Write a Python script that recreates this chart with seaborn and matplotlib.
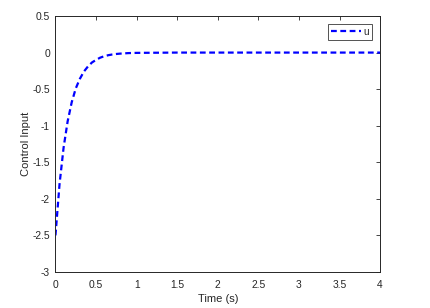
import matplotlib
matplotlib.use("Agg")
import matplotlib.pyplot as plt
import seaborn as sns
import pandas as pd

time_s = [0, 0.05, 0.1, 0.15, 0.2, 0.25, 0.3, 0.35, 0.4, 0.45, 0.5, 0.55, 0.6,
          0.65, 0.7, 0.75, 0.8, 0.9, 1.0, 1.5, 2.0, 2.5, 3.0, 3.5, 4.0]
control_u = [-2.5, -1.8, -1.3, -0.94, -0.68, -0.49, -0.36, -0.26, -0.19, -0.135,
             -0.10, -0.07, -0.05, -0.036, -0.026, -0.019, -0.014, -0.007, -0.004,
             0, 0, 0, 0, 0, 0]

df = pd.DataFrame({"Time (s)": time_s, "u": control_u})

sns.set_style("white")
plt.rcParams['font.family'] = ['Liberation Sans', 'DejaVu Sans']

fig = plt.figure(figsize=(4.3, 3.08), dpi=100)
ax = fig.add_axes([0.129, 0.117, 0.755, 0.831])

sns.lineplot(data=df, x="Time (s)", y="u", ax=ax, color="#0000ff",
             linewidth=1.6, label="u")
ax.lines[0].set_dashes((2.6, 1.6))

ax.set_xlim(0, 4)
ax.set_ylim(-3, 0.5)
ax.set_xticks([0, 0.5, 1, 1.5, 2, 2.5, 3, 3.5, 4])
ax.set_xticklabels(["0", "0.5", "1", "1.5", "2", "2.5", "3", "3.5", "4"])
ax.set_yticks([0.5, 0, -0.5, -1, -1.5, -2, -2.5, -3])
ax.set_yticklabels(["0.5", "0", "-0.5", "-1", "-1.5", "-2", "-2.5", "-3"])
ax.tick_params(direction="in", length=3, width=0.6, labelsize=7.4,
               top=True, right=True, colors="#262626", labelcolor="#262626")
ax.tick_params(axis="x", pad=6)
ax.tick_params(axis="y", pad=4)
for s in ax.spines.values():
    s.set_linewidth(0.7)
    s.set_color("#262626")
ax.set_xlabel("Time (s)", fontsize=8, labelpad=3, color="#262626")
ax.set_ylabel("Control Input", fontsize=8, labelpad=1, color="#262626")

leg = ax.legend(loc="upper right", fontsize=7.2, frameon=True, fancybox=False,
                handlelength=3.0, handletextpad=0.2, borderpad=0.3,
                borderaxespad=0.0, bbox_to_anchor=(0.975, 0.97))
leg.get_frame().set_edgecolor("#262626")
leg.get_frame().set_linewidth(0.7)
leg.get_lines()[0].set_dashes((2.6, 1.6))

fig.savefig("out.png", dpi=100)
